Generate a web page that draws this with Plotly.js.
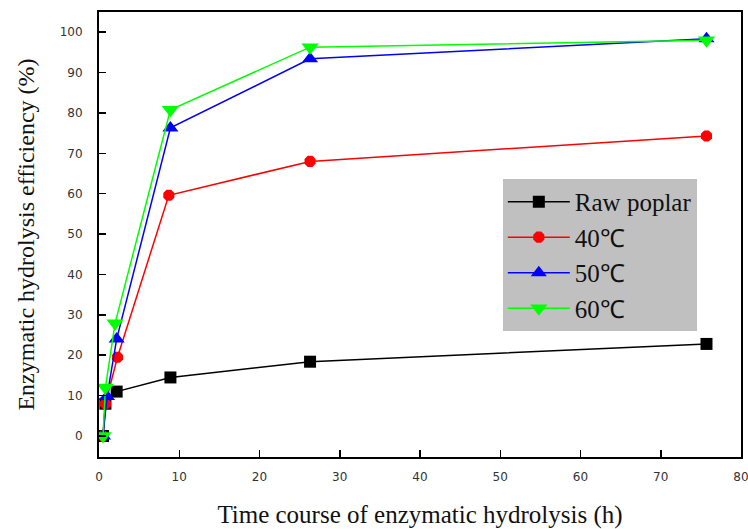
<!DOCTYPE html>
<html>
<head>
<meta charset="utf-8">
<script src="https://cdn.plot.ly/plotly-3.0.1.min.js"></script>
<style>html,body{margin:0;padding:0;background:#fff;}#chart{width:748px;height:529px;}</style>
</head>
<body>
<div id="chart"></div>
<script>
const seriesNames = ["Raw poplar", "40℃", "50℃", "60℃"];
const rawX = [0.5, 0.8, 2.2, 8.9, 26.3, 75.7];
const rawY = [0, 8, 11, 14.5, 18.4, 22.8];
const t40X = [0.5, 0.8, 2.3, 8.7, 26.3, 75.7];
const t40Y = [0, 8, 19.5, 59.6, 68, 74.3];
const t50X = [0.5, 1.0, 2.2, 8.9, 26.3, 75.7];
const t50Y = [0, 9.8, 24, 76.3, 93.4, 98.4];
const t60X = [0.5, 0.8, 2.0, 8.9, 26.3, 75.7];
const t60Y = [0, 12, 27.9, 80.8, 96.3, 98];
const xTicks = [0, 10, 20, 30, 40, 50, 60, 70, 80];
const yTicks = [0, 10, 20, 30, 40, 50, 60, 70, 80, 90, 100];

const colors = ["#000000", "#ff0000", "#0000ff", "#00ff00"];
const symbols = ["square", "octagon", "triangle-up", "triangle-down"];
const sizes = [12, 12, 14, 15];
const xs = [rawX, t40X, t50X, t60X];
const ys = [rawY, t40Y, t50Y, t60Y];

const traces = seriesNames.map((n, i) => ({
  x: xs[i], y: ys[i], name: n, type: "scatter", mode: "lines+markers",
  line: {color: colors[i], width: 1.5},
  marker: {color: colors[i], symbol: symbols[i], size: sizes[i], line: {width: 0}}
}));

const serif = "Liberation Serif, Times New Roman, serif";
const tickFont = {family: "DejaVu Sans, sans-serif", size: 12, color: "#333"};
const layout = {
  width: 748, height: 529,
  margin: {l: 99, r: 7, t: 12, b: 72},
  paper_bgcolor: "#fff", plot_bgcolor: "#fff",
  showlegend: true,
  legend: {
    x: 0.629, y: 0.625, xanchor: "left", yanchor: "top",
    bgcolor: "#c0c0c0", borderwidth: 0,
    font: {family: serif, size: 25, color: "#111"},
    itemwidth: 62,
    tracegroupgap: 0
  },
  xaxis: {
    range: [0, 80], tickvals: xTicks, ticktext: xTicks.map(String),
    ticks: "inside", ticklen: 7, tickwidth: 1.5, tickcolor: "#000",
    showline: true, linecolor: "#000", linewidth: 2, mirror: true,
    showgrid: false, zeroline: false, ticklabelstandoff: 8,
    ticklabeloverflow: "allow",
    tickfont: tickFont,
    title: {text: "Time course of enzymatic hydrolysis (h)", font: {family: serif, size: 25, color: "#111"}, standoff: 22}
  },
  yaxis: {
    range: [-5.2, 105], tickvals: yTicks, ticktext: yTicks.map(String),
    ticks: "inside", ticklen: 7, tickwidth: 1.5, tickcolor: "#000",
    showline: true, linecolor: "#000", linewidth: 2, mirror: true,
    showgrid: false, zeroline: false, ticklabelstandoff: 12,
    tickfont: tickFont,
    title: {text: "Enzymatic hydrolysis efficiency (%)", font: {family: serif, size: 24, color: "#111"}, standoff: 18}
  }
};
Plotly.newPlot("chart", traces, layout, {displayModeBar: false, staticPlot: true});
</script>
</body>
</html>
